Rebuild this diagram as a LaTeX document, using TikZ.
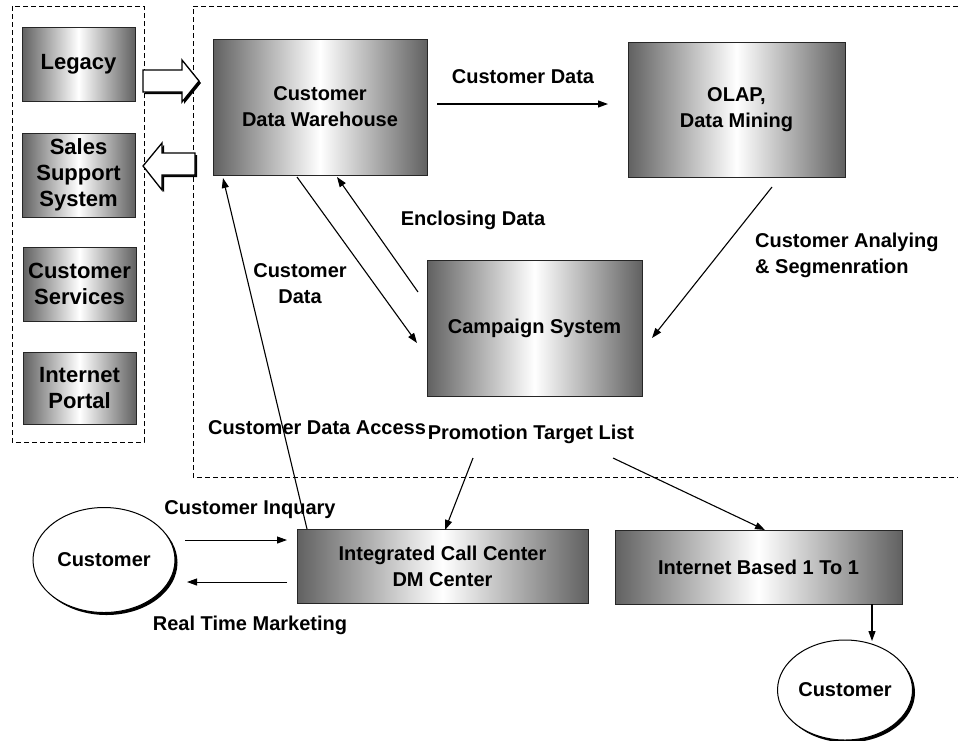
\documentclass[tikz,border=0pt]{standalone}
\usepackage{fontspec}
\setmainfont{Liberation Sans}
\usetikzlibrary{shapes.geometric,arrows.meta,shadows,calc}
\begin{document}
\begin{tikzpicture}[x=1pt,y=-1pt,
  txt/.style={font=\bfseries\fontsize{20}{26}\selectfont, align=center, inner sep=0pt},
  box/.style={draw=black!85, line width=0.8pt, left color=black!62, right color=black!62, middle color=white,
              font=\bfseries\fontsize{20}{26}\selectfont, align=center, inner sep=0pt},
  sbox/.style={box, font=\bfseries\fontsize{22}{26}\selectfont, minimum width=113pt},
  conn/.style={-{Triangle[length=10pt,width=7pt]}, line width=1.1pt},
  cust/.style={ellipse, draw=black, line width=1pt, fill=white, font=\bfseries\fontsize{20}{26}\selectfont, inner sep=0pt,
               drop shadow={shadow xshift=2.5pt, shadow yshift=-2.5pt, fill=black, opacity=1}},
  frame/.style={dashed, dash pattern=on 5pt off 3pt, line width=0.9pt},
  blockarrow/.style={fill=white, draw=black, line width=1.3pt, line join=miter}
]
\useasboundingbox (0,0) rectangle (960,740);

% dashed frames
\draw[frame] (12,6) rectangle (144,442);
\draw[frame] (958,6) -- (193,6) -- (193,477) -- (958,477);

% left systems
\node[sbox, minimum height=74pt] (legacy) at (78.5,64) {Legacy};
\node[sbox, minimum height=84pt] (sales) at (78.5,175) {Sales\\Support\\System};
\node[sbox, minimum height=74pt] (cserv) at (79.5,284) {Customer\\Services};
\node[sbox, minimum height=72pt] (portal) at (79.5,388) {Internet\\Portal};

% main boxes
\node[box, minimum width=214pt, minimum height=136pt] (cdw) at (320,107) {Customer\\Data Warehouse};
\node[box, minimum width=217pt, minimum height=135pt] (olap) at (736.5,109.5) {OLAP,\\Data Mining};
\node[box, minimum width=215pt, minimum height=136pt] (camp) at (534.5,328) {Campaign System};
\node[box, minimum width=291pt, minimum height=74pt] (icc) at (442.5,566) {Integrated Call Center\\DM Center};
\node[box, minimum width=287pt, minimum height=74pt] (inet) at (758.5,567) {Internet Based 1 To 1};

% customers
\node[cust, minimum width=142pt, minimum height=105pt] (cust1) at (104,560) {Customer};
\node[cust, minimum width=135pt, minimum height=100pt] (cust2) at (845,690) {Customer};

% block arrows
\fill[black] (145,72) -- (184,72) -- (184,62) -- (201,83) -- (184,104) -- (184,94) -- (145,94) -- cycle;
\draw[blockarrow] (143,70) -- (182,70) -- (182,60) -- (199,81) -- (182,102) -- (182,92) -- (143,92) -- cycle;
\fill[black] (197,155) -- (164,155) -- (164,145) -- (145,168) -- (164,192) -- (164,177) -- (197,177) -- cycle;
\draw[blockarrow] (195,153) -- (162,153) -- (162,143) -- (143,166) -- (162,190) -- (162,175) -- (195,175) -- cycle;

% connector end points
\coordinate (a1) at (437,104);
\coordinate (a2) at (608,104);
\coordinate (b1) at (772,187);
\coordinate (b2) at (652,338);
\coordinate (c1) at (297,177);
\coordinate (c2) at (417,343);
\coordinate (d1) at (418,292);
\coordinate (d2) at (337,177);
\coordinate (e1) at (307,529);
\coordinate (e2) at (223,178);
\coordinate (f1) at (473,458);
\coordinate (f2) at (445,530);
\coordinate (g1) at (613,458);
\coordinate (g2) at (765,530);
\coordinate (h1) at (872,604);
\coordinate (h2) at (872,641);
\coordinate (i1) at (185,540);
\coordinate (i2) at (287,540);
\coordinate (j1) at (287,582);
\coordinate (j2) at (187,582);

% labels
\node[txt] (lcd) at (523,77) {Customer Data};
\node[txt, align=left, anchor=west] (lcas) at (755,255) {Customer Analying\\\& Segmenration};
\node[txt] (led) at (473,220) {Enclosing Data};
\node[txt] (lcd2) at (300,284) {Customer\\Data};
\node[txt] (lcda) at (317,428) {Customer Data Access};
\node[txt] (lptl) at (531,434) {Promotion Target List};
\node[txt] (lci) at (250,510) {Customer Inquary};
\node[txt] (lrtm) at (250,625) {Real Time Marketing};

% connectors
\draw[conn] (a1) -- (a2);
\draw[conn] (b1) -- (b2);
\draw[conn] (c1) -- (c2);
\draw[conn] (d1) -- (d2);
\draw[conn] (e1) -- (e2);
\draw[conn] (f1) -- (f2);
\draw[conn] (g1) -- (g2);
\draw[conn] (h1) -- (h2);
\draw[conn, line width=0.9pt] (i1) -- (i2);
\draw[conn, line width=0.9pt] (j1) -- (j2);
\end{tikzpicture}
\end{document}
